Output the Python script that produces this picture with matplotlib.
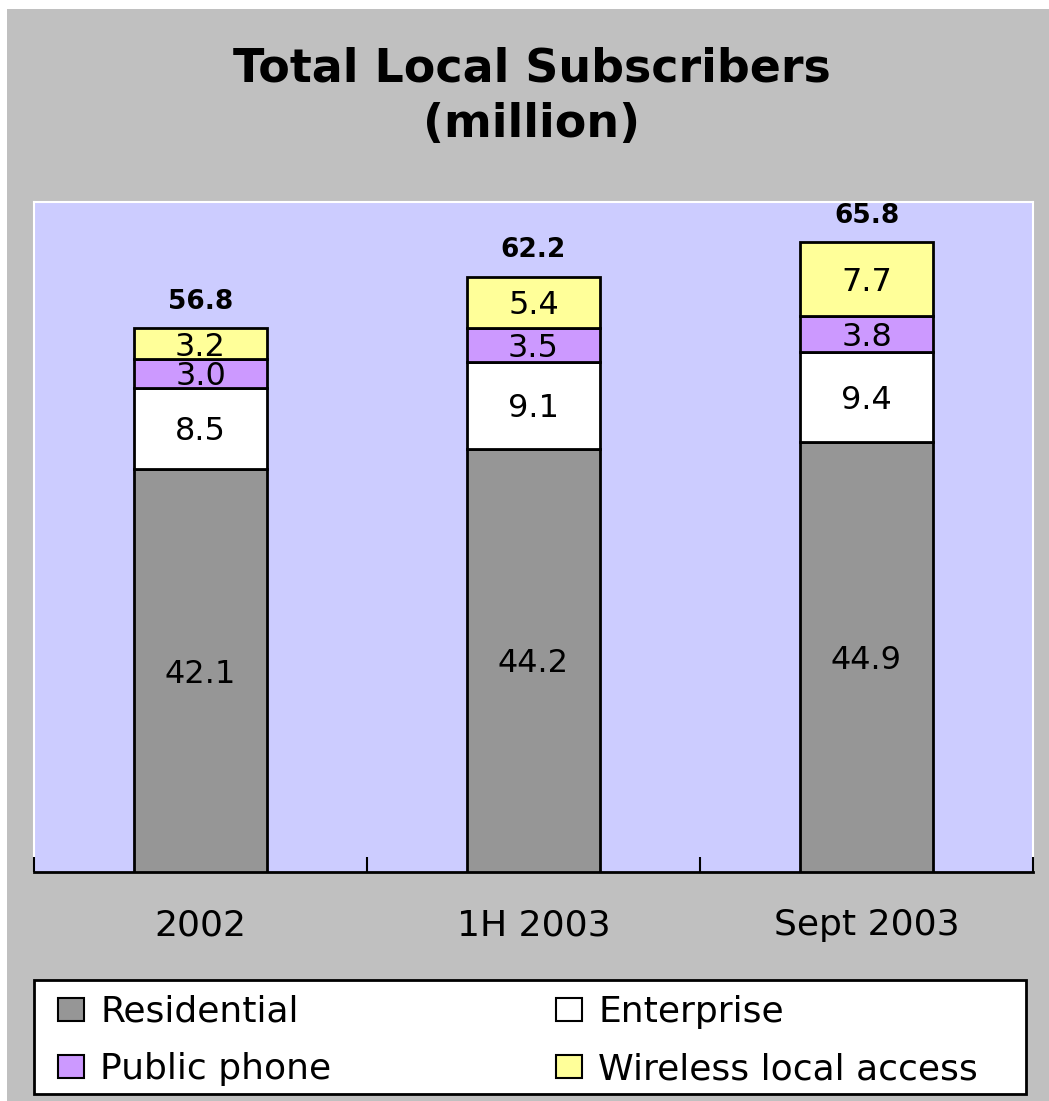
import numpy as np
import matplotlib
matplotlib.use("Agg")
import matplotlib.pyplot as plt
from matplotlib.patches import Rectangle

plt.rcParams['font.family'] = ['DejaVu Sans']

# subscribers by period, million
periods = ["2002", "1H 2003", "Sept 2003"]
residential = [42.1, 44.2, 44.9]
enterprise = [8.5, 9.1, 9.4]
public_phone = [3.0, 3.5, 3.8]
wireless = [3.2, 5.4, 7.7]
totals = [56.8, 62.2, 65.8]

series_names = ["Residential", "Enterprise", "Public phone", "Wireless local access"]
series_colors = ["#969696", "#FFFFFF", "#CC99FF", "#FFFF99"]

W, H = 1049, 1101
fig = plt.figure(figsize=(W / 100, H / 100), dpi=100)
fig.patch.set_facecolor("white")
# grey panel behind everything
fig.patches.append(Rectangle((7 / W, 0), 1, (H - 9) / H, transform=fig.transFigure,
                             facecolor="#C0C0C0", edgecolor="none", zorder=-5))

ax = fig.add_axes([34 / W, (H - 872) / H, (1033 - 34) / W, (872 - 202) / H])
ax.set_facecolor("#CCCCFF")

x = np.arange(len(periods))
bottom = np.zeros(len(periods))
bars = {}
for name, vals, col in zip(series_names, [residential, enterprise, public_phone, wireless], series_colors):
    b = ax.bar(x, vals, width=0.4, bottom=bottom, color=col, edgecolor="black", linewidth=2,
               label=name, zorder=3)
    bars[name] = b
    for xi, v, b0 in zip(x, vals, bottom):
        ax.text(xi, b0 + v / 2, f"{v:.1f}", ha="center", va="center_baseline",
                fontsize=23, zorder=4)
    bottom = bottom + np.array(vals)

for xi, t in zip(x, totals):
    ax.annotate(f"{t:.1f}", (xi, t), xytext=(0, 14), textcoords="offset points",
                ha="center", va="baseline", fontsize=19, fontweight="bold")

ax.set_xlim(-0.5, len(periods) - 0.5)
ax.set_ylim(0, 70)
ax.set_yticks([])
ax.set_xticks(x)
ax.set_xticklabels(periods, fontsize=26)
ax.tick_params(axis="x", which="major", length=0, pad=26)
ax.set_xticks(np.arange(len(periods) + 1) - 0.5, minor=True)
ax.tick_params(axis="x", which="minor", direction="in", length=11, width=1.5, color="black")
ax.xaxis.set_zorder(3.5)

for side in ["top", "left", "right"]:
    ax.spines[side].set_color("white")
    ax.spines[side].set_linewidth(1.5)
ax.spines["bottom"].set_linewidth(2)

fig.text(532 / W, 1 - 82 / H, "Total Local Subscribers", ha="center", va="baseline",
         fontsize=33, fontweight="bold")
fig.text(532 / W, 1 - 137 / H, "(million)", ha="center", va="baseline",
         fontsize=33, fontweight="bold")

# legend: white box with two columns
fig.patches.append(Rectangle((34 / W, (H - 1094) / H), (1026 - 34) / W, (1094 - 980) / H,
                             transform=fig.transFigure, facecolor="white",
                             edgecolor="black", linewidth=2, zorder=1))
columns = [(["Residential", "Public phone"], 58), (["Enterprise", "Wireless local access"], 556)]
for names, left in columns:
    leg = fig.legend([bars[n] for n in names], names, loc="upper left",
                     bbox_to_anchor=(left / W, (H - 995) / H), borderaxespad=0, borderpad=0,
                     fontsize=26, frameon=False, handlelength=0.72, handleheight=0.6,
                     handletextpad=0.45, labelspacing=0.65)
    leg.set_zorder(2)
    for h in leg.legend_handles:
        h.set_linewidth(1.5)

fig.savefig("out.png", dpi=100, facecolor=fig.get_facecolor())
